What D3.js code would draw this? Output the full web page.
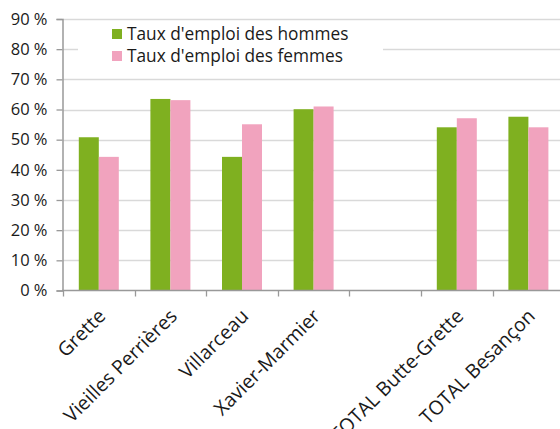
<!DOCTYPE html>
<html>
<head>
<meta charset="utf-8">
<script src="https://cdn.jsdelivr.net/npm/d3@7"></script>
<style>
  body { margin: 0; background: #fff; }
  text { font-family: 'Open Sans', sans-serif; fill: #1a1a1a; }
</style>
</head>
<body>
<script>
const categories = ['Grette', 'Vieilles Perrières', 'Villarceau', 'Xavier-Marmier', '', 'TOTAL Butte-Grette', 'TOTAL Besançon']
const hommes = [50.8, 63.5, 44.3, 60.1, null, 54.1, 57.6]
const femmes = [44.3, 63.1, 55.1, 61.0, null, 57.1, 54.1]
const seriesNames = ["Taux d'emploi des hommes", "Taux d'emploi des femmes"]
const colors = ['#7fb020', '#f1a3be']
const yTicks = [0, 10, 20, 30, 40, 50, 60, 70, 80, 90]

const width = 560
const height = 429
const margin = { top: 19, left: 63, bottom: 138 }

const svg = d3.select('body')
  .append('svg')
  .attr('width', width)
  .attr('height', height)

const x = d3.scaleBand()
  .domain(d3.range(categories.length))
  .range([margin.left, margin.left + 71.6 * categories.length])

const y = d3.scaleLinear()
  .domain([0, 90])
  .range([height - margin.bottom - 0.5, margin.top])

// grid lines
svg.append('g')
  .selectAll('line')
  .data(yTicks.slice(1))
  .join('line')
  .attr('x1', margin.left)
  .attr('x2', width)
  .attr('y1', d => Math.round(y(d)) + 0.5)
  .attr('y2', d => Math.round(y(d)) + 0.5)
  .attr('stroke', '#d9d9d9')
  .attr('stroke-width', 1.3)

// bars
const barW = 20
const groups = svg.append('g')
  .selectAll('g')
  .data(categories.map((c, i) => i))
  .join('g')
  .attr('transform', i => `translate(${x(i) + x.bandwidth() / 2 - barW},0)`)

;[hommes, femmes].forEach((vals, s) => {
  groups.filter(i => vals[i] != null)
    .append('rect')
    .attr('x', s * barW)
    .attr('width', barW)
    .attr('y', i => y(vals[i]))
    .attr('height', i => y(0) - y(vals[i]))
    .attr('fill', colors[s])
})

// y axis
const yAxis = svg.append('g')
  .attr('transform', `translate(${margin.left - 0.5},0)`)
  .call(d3.axisLeft(y).tickValues(yTicks).tickSize(6).tickFormat(d => d + ' %'))
yAxis.select('.domain').attr('stroke', '#999').attr('stroke-width', 1.5)
yAxis.selectAll('.tick line').attr('stroke', '#999').attr('stroke-width', 1.3)
yAxis.selectAll('.tick text')
  .attr('x', -15)
  .style('font-size', '16.5px')
  .style('font-family', "'Open Sans', sans-serif")
  .attr('fill', '#1a1a1a')

// x axis
const xAxis = svg.append('g')
  .attr('transform', `translate(0,${y(0)})`)
  .call(d3.axisBottom(x).tickSize(0).tickFormat(''))
xAxis.select('.domain').remove()
xAxis.append('line')
  .attr('x1', margin.left - 1)
  .attr('x2', width)
  .attr('stroke', '#999')
  .attr('stroke-width', 1.5)
xAxis.selectAll('.tickmark')
  .data(d3.range(categories.length + 1))
  .join('line')
  .attr('class', 'tickmark')
  .attr('x1', i => Math.round(margin.left + i * x.step()) + 0.5)
  .attr('x2', i => Math.round(margin.left + i * x.step()) + 0.5)
  .attr('y1', 0)
  .attr('y2', 6)
  .attr('stroke', '#999')
  .attr('stroke-width', 1.3)

svg.append('g')
  .selectAll('text')
  .data(categories.map((c, i) => i))
  .join('text')
  .attr('transform', i => `translate(${x(i) + x.bandwidth() / 2 + 3},${y(0) + 22}) rotate(-45)`)
  .attr('text-anchor', 'end')
  .attr('dy', '0.35em')
  .style('font-size', '19.5px')
  .text(i => categories[i])

// legend
const legend = svg.append('g')
legend.append('rect')
  .attr('x', 78)
  .attr('y', 22)
  .attr('width', 305)
  .attr('height', 52)
  .attr('fill', '#fff')

seriesNames.forEach((name, s) => {
  legend.append('rect')
    .attr('x', 112)
    .attr('y', 29 + s * 22)
    .attr('width', 10)
    .attr('height', 10)
    .attr('fill', colors[s])
  legend.append('text')
    .attr('x', 127)
    .attr('y', 40 + s * 22)
    .style('font-size', '17.3px')
    .text(name)
})
</script>
</body>
</html>
